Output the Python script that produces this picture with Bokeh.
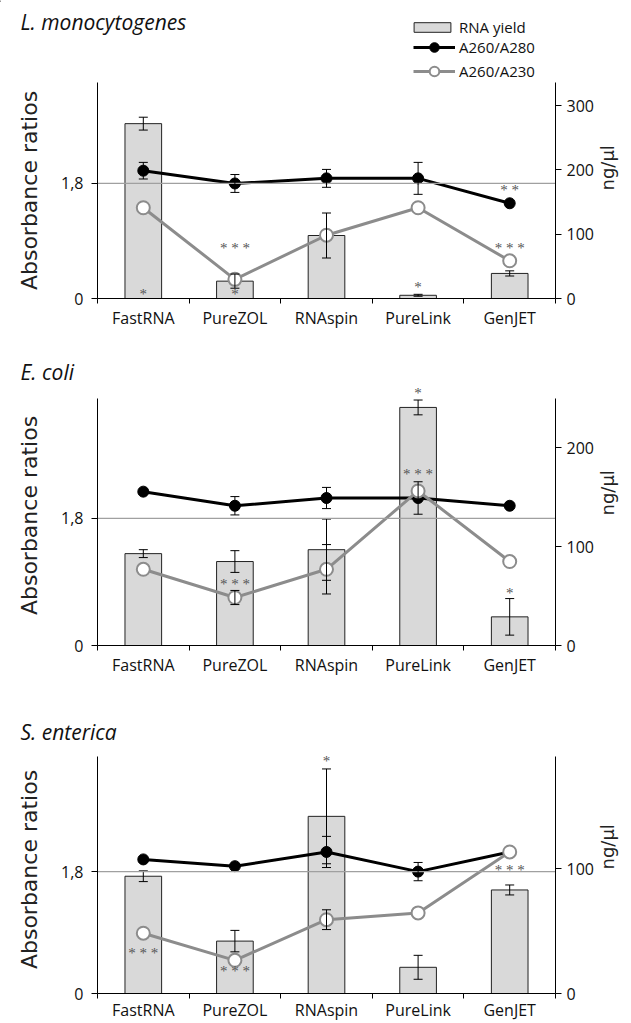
from bokeh.plotting import figure
from bokeh.models import (Range1d, LinearAxis, FixedTicker, Span, Whisker, TeeHead,
                          ColumnDataSource, LabelSet, Label, Legend, LegendItem)
from bokeh.embed import file_html
from bokeh.resources import INLINE
import math

categories = ["FastRNA", "PureZOL", "RNAspin", "PureLink", "GenJET"]
threshold = 1.8

# L. monocytogenes
lm_yield = [272, 27, 98, 5, 39]
lm_yield_err = [10, 11, 35, 1.5, 4]
lm_a280 = [2.00, 1.80, 1.88, 1.88, 1.49]
lm_a280_err = [0.13, 0.14, 0.14, 0.25, 0]
lm_a230 = [1.42, 0.30, 0.99, 1.42, 0.59]
lm_a230_err = [0, 0, 0, 0, 0]
lm_star_cat = ["FastRNA", "PureZOL", "PureZOL", "PureLink", "GenJET", "GenJET"]
lm_star_txt = ["*", "* * *", "*", "*", "* *", "* * *"]
lm_star_y = [0.07, 0.79, 0.07, 0.18, 1.70, 0.79]

# E. coli
ec_yield = [93, 85, 97, 241, 29]
ec_yield_err = [4, 11, 31, 7.5, 18.5]
ec_a280 = [2.18, 1.98, 2.09, 2.09, 1.98]
ec_a280_err = [0, 0.13, 0.15, 0.23, 0]
ec_a230 = [1.08, 0.68, 1.08, 2.19, 1.19]
ec_a230_err = [0, 0.10, 0.35, 0, 0]
ec_star_cat = ["PureZOL", "PureLink", "PureLink", "GenJET"]
ec_star_txt = ["* * *", "*", "* * *", "*"]
ec_star_y = [0.87, 3.58, 2.43, 0.75]

# S. enterica
se_yield = [94, 42, 142, 21, 83]
se_yield_err = [4.3, 8.6, 38, 9.6, 4]
se_a280 = [1.98, 1.88, 2.09, 1.80, 2.09]
se_a280_err = [0, 0, 0.23, 0.135, 0]
se_a230 = [0.89, 0.49, 1.09, 1.19, 2.09]
se_a230_err = [0, 0, 0.146, 0, 0]
se_star_cat = ["FastRNA", "PureZOL", "RNAspin", "GenJET"]
se_star_txt = ["* * *", "* * *", "*", "* * *"]
se_star_y = [0.60, 0.33, 3.44, 1.83]

legend_labels = ["RNA yield", "A260/A280", "A260/A230"]

TICK_FONT = "Open Sans"
GREY = "#8c8c8c"
BAR = "#d9d9d9"
W = 631

panels = [
    dict(title="L. monocytogenes", yld=lm_yield, yerr=lm_yield_err, a280=lm_a280, a280e=lm_a280_err,
         a230=lm_a230, a230e=lm_a230_err, sc=lm_star_cat, st=lm_star_txt, sy=lm_star_y,
         hh=82, ty=21, h=250, bb=34, xstand=3, ax_l=3.38, ax_r=336, view_l=3.38, view_r=336,
         rticks=[0, 100, 200, 300], legend=True),
    dict(title="E. coli", yld=ec_yield, yerr=ec_yield_err, a280=ec_a280, a280e=ec_a280_err,
         a230=ec_a230, a230e=ec_a230_err, sc=ec_star_cat, st=ec_star_txt, sy=ec_star_y,
         hh=53, ty=39, h=294, bb=34, xstand=3, ax_l=3.5, ax_r=250, view_l=3.684, view_r=263.2,
         rticks=[0, 100, 200], legend=False),
    dict(title="S. enterica", yld=se_yield, yerr=se_yield_err, a280=se_a280, a280e=se_a280_err,
         a230=se_a230, a230e=se_a230_err, sc=se_star_cat, st=se_star_txt, sy=se_star_y,
         hh=66, ty=52, h=278, bb=29, xstand=0, ax_l=3.5, ax_r=190, view_l=3.662, view_r=198.8,
         rticks=[0, 100], legend=False),
]


def whisk(p, xs, ys, errs, range_name="default"):
    sel = [(x, y, e) for x, y, e in zip(xs, ys, errs) if e > 0]
    if not sel:
        return
    src = ColumnDataSource(dict(x=[s[0] for s in sel],
                                lo=[s[1] - s[2] for s in sel],
                                hi=[s[1] + s[2] for s in sel]))
    w = Whisker(source=src, base="x", lower="lo", upper="hi", dimension="height",
                line_color="black", line_width=1, level="glyph", y_range_name=range_name,
                upper_head=TeeHead(size=9, line_color="black", line_width=1),
                lower_head=TeeHead(size=9, line_color="black", line_width=1))
    p.add_layout(w)


def styled(p, kind, **kw):
    if kind == "bar":
        return p.vbar(fill_color=BAR, line_color="#222222", line_width=1, width=0.4, **kw)
    if kind == "l280":
        return p.line(line_color="black", line_width=3, **kw)
    if kind == "m280":
        return p.scatter(size=11, fill_color="black", line_color="black", **kw)
    if kind == "l230":
        return p.line(line_color=GREY, line_width=3, **kw)
    if kind == "m230":
        return p.scatter(size=13, fill_color="white", line_color=GREY, line_width=2, **kw)


def make_legend(items, loc, gw, gh):
    return Legend(items=items, location=loc, orientation="vertical",
                  glyph_width=gw, glyph_height=gh, label_height=20, spacing=0,
                  label_standoff=4, padding=0, margin=0,
                  border_line_color=None, background_fill_alpha=0,
                  label_text_font=TICK_FONT, label_text_font_size="15px",
                  label_text_color="#111111")


roots = []
for P in panels:
    # ---- header: title (and legend for the first panel) ----
    hh = P["hh"]
    hdr = figure(width=W, height=hh, output_backend="svg", toolbar_location=None,
                 x_range=Range1d(0, W), y_range=Range1d(hh, 0),
                 x_axis_location=None, y_axis_location=None,
                 min_border=0, min_border_left=0, min_border_right=0,
                 min_border_top=0, min_border_bottom=0)
    hdr.outline_line_color = None
    hdr.xgrid.visible = False
    hdr.ygrid.visible = False
    hdr.add_layout(Label(x=20, y=P["ty"], text=P["title"], text_font=TICK_FONT,
                         text_font_style="italic", text_font_size="21px", text_color="#111111",
                         text_baseline="middle", text_align="left"))
    if P["legend"]:
        off = [-500]  # legend proxies, outside the header's visible range
        hb = styled(hdr, "bar", x=off, top=[1])
        hl1 = styled(hdr, "l280", x=off, y=[1])
        hm1 = styled(hdr, "m280", x=off, y=[1])
        hl2 = styled(hdr, "l230", x=off, y=[1])
        hm2 = styled(hdr, "m230", x=off, y=[1])
        legA = make_legend([LegendItem(label=legend_labels[0], renderers=[hb])],
                           (409, hh - 37), 46, 12)
        legB = make_legend([LegendItem(label=legend_labels[1], renderers=[hl1, hm1]),
                            LegendItem(label=legend_labels[2], renderers=[hl2, hm2])],
                           (413, hh - 83), 42, 24)
        hdr.add_layout(legA, "center")
        hdr.add_layout(legB, "center")
    roots.append(hdr)

    # ---- main plot ----
    n = len(categories)
    xc = [i + 0.5 for i in range(n)]
    p = figure(width=W, height=P["h"], output_backend="svg", toolbar_location=None,
               x_range=Range1d(0, n), y_range=Range1d(0, P["view_l"]),
               min_border_left=97, min_border_right=74,
               min_border_top=0, min_border_bottom=P["bb"])
    p.outline_line_color = None
    p.xgrid.visible = False
    p.ygrid.visible = False
    p.extra_y_ranges = {"ng": Range1d(0, P["view_r"])}

    styled(p, "bar", x=xc, top=P["yld"], y_range_name="ng")
    whisk(p, xc, P["yld"], P["yerr"], "ng")

    span = Span(location=threshold, dimension="width", line_color="#a0a0a0", line_width=1.3,
                level="glyph")
    p.add_layout(span)

    styled(p, "l280", x=xc, y=P["a280"])
    styled(p, "m280", x=xc, y=P["a280"])
    whisk(p, xc, P["a280"], P["a280e"])
    styled(p, "l230", x=xc, y=P["a230"])
    styled(p, "m230", x=xc, y=P["a230"])
    whisk(p, xc, P["a230"], P["a230e"])

    ssrc = ColumnDataSource(dict(x=[categories.index(c) + 0.5 for c in P["sc"]],
                                 y=P["sy"], t=P["st"]))
    p.add_layout(LabelSet(source=ssrc, x="x", y="y", text="t", text_align="center",
                          text_baseline="middle", text_font_size="15px", text_color="#555555",
                          text_font=TICK_FONT))

    xa = p.xaxis[0]
    xa.ticker = FixedTicker(ticks=xc, minor_ticks=list(range(n + 1)))
    xa.major_label_overrides = {x: c for x, c in zip(xc, categories)}
    xa.major_tick_out = 0
    xa.major_tick_in = 0
    xa.minor_tick_out = 5
    xa.minor_tick_in = 0
    xa.axis_line_color = "black"
    xa.minor_tick_line_color = "black"
    xa.major_label_text_font = TICK_FONT
    xa.major_label_text_font_size = "16px"
    xa.major_label_text_color = "#111111"
    xa.major_label_standoff = P["xstand"]

    ya = p.yaxis[0]
    ya.bounds = (0, P["ax_l"])
    ya.ticker = FixedTicker(ticks=[0, threshold])
    ya.major_label_overrides = {0: "0", threshold: "1,8"}
    ya.major_tick_out = 6
    ya.major_tick_in = 0
    ya.minor_tick_line_color = None
    ya.axis_line_color = "black"
    ya.major_tick_line_color = "black"
    ya.major_label_standoff = 8
    ya.major_label_text_font = TICK_FONT
    ya.major_label_text_font_size = "16px"
    ya.major_label_text_color = "#111111"
    ya.axis_label = "Absorbance ratios"
    ya.axis_label_text_font = "DejaVu Sans"
    ya.axis_label_text_font_style = "normal"
    ya.axis_label_text_font_size = "22px"
    ya.axis_label_text_color = "#222222"
    ya.axis_label_standoff = 16

    ra = LinearAxis(y_range_name="ng", ticker=FixedTicker(ticks=P["rticks"]),
                    bounds=(0, P["ax_r"]))
    ra.major_tick_out = 6
    ra.major_tick_in = 0
    ra.minor_tick_line_color = None
    ra.axis_line_color = "black"
    ra.major_label_text_font = TICK_FONT
    ra.major_label_text_font_size = "16px"
    ra.major_label_text_color = "#111111"
    ra.axis_label = "ng/µl"
    ra.axis_label_orientation = math.pi / 2
    ra.axis_label_text_font = "DejaVu Sans"
    ra.axis_label_text_font_style = "normal"
    ra.axis_label_text_font_size = "18px"
    ra.axis_label_text_color = "#222222"
    ra.axis_label_standoff = 11
    p.add_layout(ra, "right")
    roots.append(p)

open("out.html", "w").write(file_html(roots, INLINE))
